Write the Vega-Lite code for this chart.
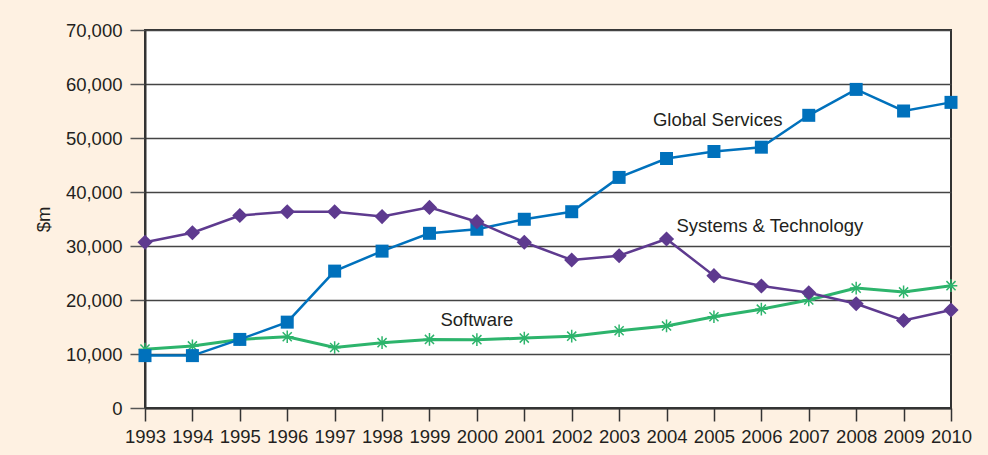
{
  "$schema": "https://vega.github.io/schema/vega-lite/v6.json",
  "autosize": {"type": "none"},
  "width": 806,
  "height": 378,
  "padding": {"left": 145, "top": 30, "right": 37, "bottom": 47},
  "background": "#fef1e2",
  "config": {
    "view": {"fill": "#ffffff", "stroke": "#333333", "strokeWidth": 2},
    "font": "Liberation Sans",
    "text": {"font": "Liberation Sans"}
  },
  "datasets": {
    "series": [
      {"year": 1993, "series": "Global Services", "value": 9700},
      {"year": 1994, "series": "Global Services", "value": 9700},
      {"year": 1995, "series": "Global Services", "value": 12700},
      {"year": 1996, "series": "Global Services", "value": 15900},
      {"year": 1997, "series": "Global Services", "value": 25350},
      {"year": 1998, "series": "Global Services", "value": 29050},
      {"year": 1999, "series": "Global Services", "value": 32350},
      {"year": 2000, "series": "Global Services", "value": 33100},
      {"year": 2001, "series": "Global Services", "value": 34950},
      {"year": 2002, "series": "Global Services", "value": 36350},
      {"year": 2003, "series": "Global Services", "value": 42700},
      {"year": 2004, "series": "Global Services", "value": 46200},
      {"year": 2005, "series": "Global Services", "value": 47500},
      {"year": 2006, "series": "Global Services", "value": 48300},
      {"year": 2007, "series": "Global Services", "value": 54200},
      {"year": 2008, "series": "Global Services", "value": 59000},
      {"year": 2009, "series": "Global Services", "value": 55000},
      {"year": 2010, "series": "Global Services", "value": 56600},
      {"year": 1993, "series": "Systems & Technology", "value": 30700},
      {"year": 1994, "series": "Systems & Technology", "value": 32450},
      {"year": 1995, "series": "Systems & Technology", "value": 35650},
      {"year": 1996, "series": "Systems & Technology", "value": 36350},
      {"year": 1997, "series": "Systems & Technology", "value": 36350},
      {"year": 1998, "series": "Systems & Technology", "value": 35450},
      {"year": 1999, "series": "Systems & Technology", "value": 37150},
      {"year": 2000, "series": "Systems & Technology", "value": 34500},
      {"year": 2001, "series": "Systems & Technology", "value": 30700},
      {"year": 2002, "series": "Systems & Technology", "value": 27400},
      {"year": 2003, "series": "Systems & Technology", "value": 28200},
      {"year": 2004, "series": "Systems & Technology", "value": 31300},
      {"year": 2005, "series": "Systems & Technology", "value": 24500},
      {"year": 2006, "series": "Systems & Technology", "value": 22600},
      {"year": 2007, "series": "Systems & Technology", "value": 21350},
      {"year": 2008, "series": "Systems & Technology", "value": 19300},
      {"year": 2009, "series": "Systems & Technology", "value": 16200},
      {"year": 2010, "series": "Systems & Technology", "value": 18150},
      {"year": 1993, "series": "Software", "value": 10900},
      {"year": 1994, "series": "Software", "value": 11500},
      {"year": 1995, "series": "Software", "value": 12700},
      {"year": 1996, "series": "Software", "value": 13200},
      {"year": 1997, "series": "Software", "value": 11200},
      {"year": 1998, "series": "Software", "value": 12100},
      {"year": 1999, "series": "Software", "value": 12700},
      {"year": 2000, "series": "Software", "value": 12650},
      {"year": 2001, "series": "Software", "value": 12950},
      {"year": 2002, "series": "Software", "value": 13300},
      {"year": 2003, "series": "Software", "value": 14300},
      {"year": 2004, "series": "Software", "value": 15200},
      {"year": 2005, "series": "Software", "value": 16900},
      {"year": 2006, "series": "Software", "value": 18300},
      {"year": 2007, "series": "Software", "value": 20000},
      {"year": 2008, "series": "Software", "value": 22200},
      {"year": 2009, "series": "Software", "value": 21500},
      {"year": 2010, "series": "Software", "value": 22650}
    ],
    "labels": [
      {"year": 2005.08, "value": 52300, "label": "Global Services"},
      {"year": 2006.18, "value": 32550, "label": "Systems & Technology"},
      {"year": 2000.0, "value": 15200, "label": "Software"}
    ]
  },
  "encoding": {
    "x": {
      "field": "year",
      "type": "quantitative",
      "scale": {"domain": [1993, 2010], "nice": false, "zero": false},
      "axis": {
        "title": null,
        "values": [1993, 1994, 1995, 1996, 1997, 1998, 1999, 2000, 2001, 2002, 2003, 2004, 2005, 2006, 2007, 2008, 2009, 2010],
        "format": "d",
        "grid": false,
        "labelFontSize": 18.5,
        "labelColor": "#231f20",
        "labelOverlap": false,
        "labelFlush": false,
        "labelPadding": 6,
        "tickSize": 13,
        "tickColor": "#333333",
        "tickWidth": 1.5,
        "domainColor": "#333333",
        "domainWidth": 2
      }
    },
    "y": {
      "field": "value",
      "type": "quantitative",
      "scale": {"domain": [0, 70000], "nice": false},
      "axis": {
        "title": "$m",
        "titleFontSize": 18.5,
        "titleFontWeight": "normal",
        "titleColor": "#231f20",
        "titlePadding": 12,
        "values": [0, 10000, 20000, 30000, 40000, 50000, 60000, 70000],
        "format": ",d",
        "labelFontSize": 18.5,
        "labelColor": "#231f20",
        "labelPadding": 8,
        "tickSize": 15,
        "tickColor": "#555555",
        "tickWidth": 1.5,
        "grid": true,
        "gridColor": "#444444",
        "gridWidth": 1.5,
        "domainColor": "#333333",
        "domainWidth": 2
      }
    }
  },
  "layer": [
    {
      "data": {"name": "series"},
      "transform": [{"filter": "datum.series === 'Software'"}],
      "mark": {
        "type": "line",
        "color": "#2db46c",
        "strokeWidth": 3,
        "point": {
          "shape": "M-1,0L1,0M0,-1L0,1M-0.72,-0.72L0.72,0.72M-0.72,0.72L0.72,-0.72",
          "filled": false,
          "stroke": "#2db46c",
          "strokeWidth": 1.5,
          "size": 160
        }
      }
    },
    {
      "data": {"name": "series"},
      "transform": [{"filter": "datum.series === 'Global Services'"}],
      "mark": {
        "type": "line",
        "color": "#0071bc",
        "strokeWidth": 2.5,
        "point": {"shape": "square", "filled": true, "color": "#0071bc", "size": 169, "opacity": 1}
      }
    },
    {
      "data": {"name": "series"},
      "transform": [{"filter": "datum.series === 'Systems & Technology'"}],
      "mark": {
        "type": "line",
        "color": "#5e3a8f",
        "strokeWidth": 2.5,
        "point": {"shape": "diamond", "filled": true, "color": "#5e3a8f", "size": 230, "opacity": 1}
      }
    },
    {
      "data": {"name": "labels"},
      "mark": {"type": "text", "fontSize": 18.5, "color": "#231f20", "align": "center", "baseline": "alphabetic"},
      "encoding": {"text": {"field": "label"}}
    }
  ]
}
